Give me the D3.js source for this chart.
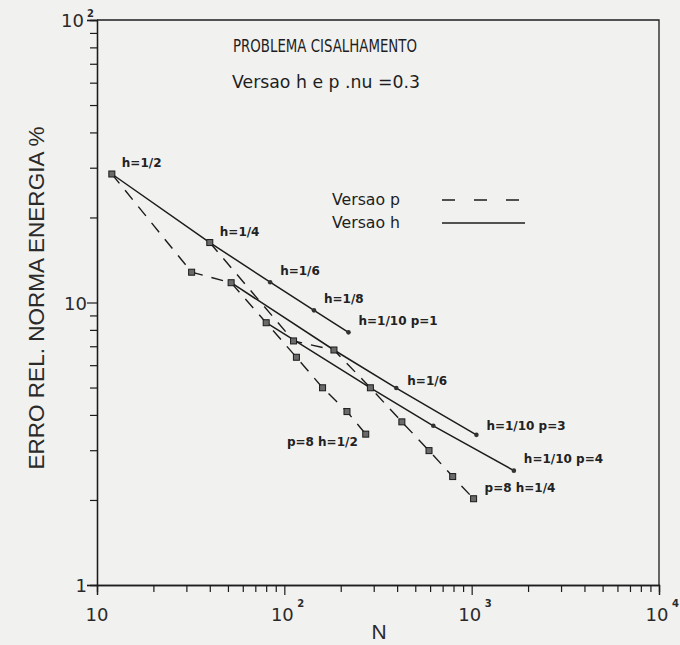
<!DOCTYPE html>
<html>
<head>
<meta charset="utf-8">
<script src="https://cdn.jsdelivr.net/npm/d3@7"></script>
<style>
  html, body { margin: 0; padding: 0; background: #f1f1f0; }
  svg { display: block; }
</style>
</head>
<body>
<div id="chart"></div>
<script>
// h-version (solid lines), p = 1, 3, 4
const nH1 = [12, 40, 84, 144, 220];
const errH1 = [28.5, 16.3, 11.8, 9.38, 7.84];
const nH3 = [52, 184, 396, 1060];
const errH3 = [11.75, 6.79, 4.98, 3.4];
const nH4 = [80, 288, 624, 1680];
const errH4 = [8.48, 4.99, 3.66, 2.54];

// p-version (dashed lines), p = 1..8, h = 1/2 and h = 1/4
const nP2 = [12, 32, 52, 80, 116, 160, 216, 272];
const errP2 = [28.5, 12.8, 11.75, 8.48, 6.4, 4.99, 4.11, 3.42];
const nP4 = [40, 112, 184, 288, 424, 592, 792, 1024];
const errP4 = [16.3, 7.31, 6.79, 4.99, 3.78, 2.99, 2.42, 2.02];

const xTicks = [10, 100, 1000, 10000];
const xTickLabels = ["10", "10", "10", "10"];
const xTickSups = ["", "2", "3", "4"];
const yTicks = [1, 10, 100];
const yTickLabels = ["1", "10", "10"];
const yTickSups = ["", "", "2"];

const pointLabels = ["h=1/2", "h=1/4", "h=1/6", "h=1/8", "h=1/10  p=1"];

var width = 680, height = 645;
var svg = d3.select("#chart").append("svg")
  .attr("width", width)
  .attr("height", height);

svg.append("rect")
  .attr("width", width)
  .attr("height", height)
  .attr("fill", "#f1f1f0");

var x = d3.scaleLog().domain([10, 10000]).range([97, 659]);
var y = d3.scaleLog().domain([1, 100]).range([585, 20]);

var ink = "#1c1c1c";

// frame (top and right, no ticks)
svg.append("path")
  .attr("d", "M" + x(10) + "," + y(100) + "H" + x(10000) + "V" + y(1))
  .attr("fill", "none")
  .attr("stroke", ink)
  .attr("stroke-width", 1.3);

// axes
var xMinor = [];
var yMinor = [];
for (let d = 10; d < 10000; d *= 10) {
  for (let k = 2; k < 10; k++) xMinor.push(d * k);
}
for (let d = 1; d < 100; d *= 10) {
  for (let k = 2; k < 10; k++) yMinor.push(d * k);
}

var xAxis = svg.append("g")
  .attr("transform", "translate(0," + y(1) + ")")
  .call(d3.axisBottom(x).tickValues(xMinor).tickSize(7).tickFormat(""));
var xMajor = svg.append("g")
  .attr("transform", "translate(0," + y(1) + ")")
  .call(d3.axisBottom(x).tickValues(xTicks).tickSize(10).tickFormat(""));
var yAxis = svg.append("g")
  .attr("transform", "translate(" + x(10) + ",0)")
  .call(d3.axisLeft(y).tickValues(yMinor).tickSize(7).tickFormat(""));
var yMajor = svg.append("g")
  .attr("transform", "translate(" + x(10) + ",0)")
  .call(d3.axisLeft(y).tickValues(yTicks).tickSize(10).tickFormat(""));

[xAxis, xMajor, yAxis, yMajor].forEach(function (g) {
  g.selectAll("path").attr("stroke", ink).attr("stroke-width", 1.3);
  g.selectAll("line").attr("stroke", ink).attr("stroke-width", 1.2);
});

// tick labels
var tickFont = "'DejaVu Sans', sans-serif";
xTicks.forEach(function (t, i) {
  svg.append("text")
    .attr("x", x(t) - (xTickSups[i] ? 2 : 0))
    .attr("y", 621)
    .attr("text-anchor", "middle")
    .attr("font-family", tickFont)
    .attr("font-size", 18)
    .attr("fill", "#2a2a2a")
    .text(xTickLabels[i]);
  if (xTickSups[i]) {
    svg.append("text")
      .attr("x", x(t) + 13)
      .attr("y", 607)
      .attr("font-family", tickFont)
      .attr("font-size", 10)
      .attr("font-weight", "bold")
      .attr("fill", "#2a2a2a")
      .text(xTickSups[i]);
  }
});
yTicks.forEach(function (t, i) {
  var labelRight = yTickSups[i] ? 84 : 87;
  svg.append("text")
    .attr("x", labelRight)
    .attr("y", y(t) + 7)
    .attr("text-anchor", "end")
    .attr("font-family", tickFont)
    .attr("font-size", 18)
    .attr("fill", "#2a2a2a")
    .text(yTickLabels[i]);
  if (yTickSups[i]) {
    svg.append("text")
      .attr("x", 87)
      .attr("y", y(t) - 3)
      .attr("font-family", tickFont)
      .attr("font-size", 10)
      .attr("font-weight", "bold")
      .attr("fill", "#2a2a2a")
      .text(yTickSups[i]);
  }
});

// axis titles
svg.append("text")
  .attr("x", 379)
  .attr("y", 639)
  .attr("text-anchor", "middle")
  .attr("font-family", "'Liberation Sans', Arial, sans-serif")
  .attr("font-size", 21)
  .attr("fill", "#2a2a2a")
  .text("N");

svg.append("text")
  .attr("transform", "translate(44,298) rotate(-90)")
  .attr("text-anchor", "middle")
  .attr("font-family", "'Liberation Sans', Arial, sans-serif")
  .attr("font-size", 22)
  .attr("textLength", 343)
  .attr("lengthAdjust", "spacingAndGlyphs")
  .attr("fill", "#2a2a2a")
  .text("ERRO REL. NORMA ENERGIA %");

// titles
var titleFont = "'DejaVu Sans', sans-serif";
svg.append("text")
  .attr("x", 233)
  .attr("y", 52)
  .attr("font-family", titleFont)
  .attr("font-size", 18)
  .attr("textLength", 184)
  .attr("lengthAdjust", "spacingAndGlyphs")
  .attr("fill", "#1e1e1e")
  .text("PROBLEMA  CISALHAMENTO");
svg.append("text")
  .attr("x", 232)
  .attr("y", 88)
  .attr("font-family", titleFont)
  .attr("font-size", 17)
  .attr("textLength", 188)
  .attr("lengthAdjust", "spacingAndGlyphs")
  .attr("fill", "#1e1e1e")
  .text("Versao h e p .nu =0.3");

// legend
svg.append("text")
  .attr("x", 332).attr("y", 205)
  .attr("font-family", titleFont).attr("font-size", 16)
  .attr("textLength", 68).attr("lengthAdjust", "spacingAndGlyphs")
  .attr("fill", "#1e1e1e")
  .text("Versao p");
svg.append("text")
  .attr("x", 332).attr("y", 228)
  .attr("font-family", titleFont).attr("font-size", 16)
  .attr("textLength", 68).attr("lengthAdjust", "spacingAndGlyphs")
  .attr("fill", "#1e1e1e")
  .text("Versao h");
svg.append("line")
  .attr("x1", 442).attr("x2", 520).attr("y1", 200).attr("y2", 200)
  .attr("stroke", ink).attr("stroke-width", 1.4)
  .attr("stroke-dasharray", "13,19");
svg.append("line")
  .attr("x1", 442).attr("x2", 525).attr("y1", 223).attr("y2", 223)
  .attr("stroke", ink).attr("stroke-width", 1.4);

// series
var line = d3.line()
  .x(function (d) { return x(d[0]); })
  .y(function (d) { return y(d[1]); });

function series(ns, errs) {
  return ns.map(function (n, i) { return [n, errs[i]]; });
}

var hSeries = [series(nH1, errH1), series(nH3, errH3), series(nH4, errH4)];
var pSeries = [series(nP2, errP2), series(nP4, errP4)];

svg.selectAll(".hline")
  .data(hSeries)
  .enter().append("path")
  .attr("class", "hline")
  .attr("d", line)
  .attr("fill", "none")
  .attr("stroke", ink)
  .attr("stroke-width", 1.5);

svg.selectAll(".pline")
  .data(pSeries)
  .enter().append("path")
  .attr("class", "pline")
  .attr("d", line)
  .attr("fill", "none")
  .attr("stroke", ink)
  .attr("stroke-width", 1.4)
  .attr("stroke-dasharray", "12,9");

// small dots on h-version points
svg.selectAll(".hdot")
  .data(d3.merge(hSeries))
  .enter().append("circle")
  .attr("class", "hdot")
  .attr("cx", function (d) { return x(d[0]); })
  .attr("cy", function (d) { return y(d[1]); })
  .attr("r", 2.3)
  .attr("fill", "#333");

// squares on p-version points
svg.selectAll(".psq")
  .data(d3.merge(pSeries))
  .enter().append("rect")
  .attr("class", "psq")
  .attr("x", function (d) { return x(d[0]) - 3; })
  .attr("y", function (d) { return y(d[1]) - 3; })
  .attr("width", 6)
  .attr("height", 6)
  .attr("fill", "#6a6a6a")
  .attr("stroke", "#1a1a1a")
  .attr("stroke-width", 1);

// point annotations
var labelFont = "'DejaVu Sans', sans-serif";
function annotate(txt, n, err, dx, dy, anchor) {
  svg.append("text")
    .attr("x", x(n) + dx)
    .attr("y", y(err) + dy)
    .attr("text-anchor", anchor || "start")
    .attr("font-family", labelFont)
    .attr("font-size", 12)
    .attr("font-weight", "bold")
    .attr("fill", "#222")
    .text(txt);
}

nH1.forEach(function (n, i) {
  annotate(pointLabels[i], n, errH1[i], 10, -7);
});
annotate("h=1/6", nH3[2], errH3[2], 11, -3);
annotate("h=1/10  p=3", nH3[3], errH3[3], 10, -5);
annotate("h=1/10  p=4", nH4[3], errH4[3], 10, -8);
annotate("p=8  h=1/2", nP2[7], errP2[7], -8, 12, "end");
annotate("p=8  h=1/4", nP4[7], errP4[7], 11, -7);
</script>
</body>
</html>
